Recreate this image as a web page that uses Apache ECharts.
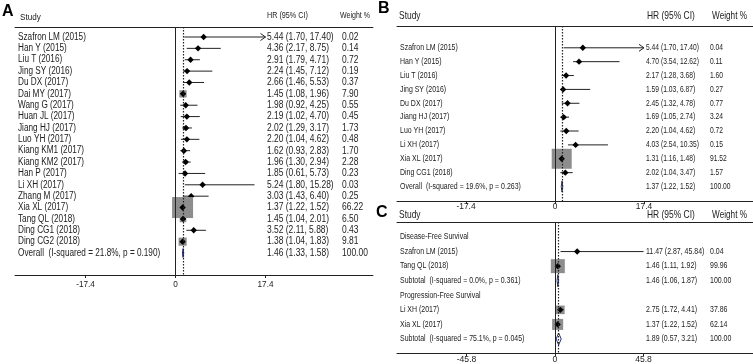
<!DOCTYPE html>
<html>
<head>
<meta charset="utf-8">
<script src="https://cdn.jsdelivr.net/npm/echarts@6/dist/echarts.min.js"></script>
<style>
  html, body { margin: 0; padding: 0; background: #fff; }
  #chart { width: 753px; height: 364px; }
</style>
</head>
<body>
<div id="chart"></div>
<script>
// A: all studies (overall survival)
const studiesA = ['Szafron LM (2015)', 'Han Y (2015)', 'Liu T (2016)', 'Jing SY (2016)', 'Du DX (2017)',
  'Dai MY (2017)', 'Wang G (2017)', 'Huan JL (2017)', 'Jiang HJ (2017)', 'Luo YH (2017)',
  'Kiang KM1 (2017)', 'Kiang KM2 (2017)', 'Han P (2017)', 'Li XH (2017)', 'Zhang M (2017)',
  'Xia XL (2017)', 'Tang QL (2018)', 'Ding CG1 (2018)', 'Ding CG2 (2018)',
  'Overall  (I-squared = 21.8%, p = 0.190)'];
const hrA = [5.44, 4.36, 2.91, 2.24, 2.66, 1.45, 1.98, 2.19, 2.02, 2.20, 1.62, 1.96, 1.85, 5.24, 3.03, 1.37, 1.45, 3.52, 1.38, 1.46];
const loA = [1.70, 2.17, 1.79, 1.45, 1.46, 1.08, 0.92, 1.02, 1.29, 1.04, 0.93, 1.30, 0.61, 1.80, 1.43, 1.22, 1.04, 2.11, 1.04, 1.33];
const hiA = [17.40, 8.75, 4.71, 7.12, 5.53, 1.96, 4.25, 4.70, 3.17, 4.62, 2.83, 2.94, 5.73, 15.28, 6.40, 1.52, 2.01, 5.88, 1.83, 1.58];
const weightA = [0.02, 0.14, 0.72, 0.19, 0.37, 7.90, 0.55, 0.45, 1.73, 0.48, 1.70, 2.28, 0.23, 0.03, 0.25, 66.22, 6.50, 0.43, 9.81, 100.00];

// B
const studiesB = ['Szafron LM (2015)', 'Han Y (2015)', 'Liu T (2016)', 'Jing SY (2016)', 'Du DX (2017)',
  'Jiang HJ (2017)', 'Luo YH (2017)', 'Li XH (2017)', 'Xia XL (2017)', 'Ding CG1 (2018)',
  'Overall  (I-squared = 19.6%, p = 0.263)'];
const hrB = [5.44, 4.70, 2.17, 1.59, 2.45, 1.69, 2.20, 4.03, 1.31, 2.02, 1.37];
const loB = [1.70, 3.54, 1.28, 1.03, 1.32, 1.05, 1.04, 2.54, 1.16, 1.04, 1.22];
const hiB = [17.40, 12.62, 3.68, 6.87, 4.78, 2.74, 4.62, 10.35, 1.48, 3.47, 1.52];
const weightB = [0.04, 0.11, 1.60, 0.27, 0.77, 3.24, 0.72, 0.15, 91.52, 1.57, 100.00];

// C: subgroups (null = subgroup heading)
const studiesC = ['Disease-Free Survival', 'Szafron LM (2015)', 'Tang QL (2018)',
  'Subtotal  (I-squared = 0.0%, p = 0.361)', 'Progression-Free Survival',
  'Li XH (2017)', 'Xia XL (2017)', 'Subtotal  (I-squared = 75.1%, p = 0.045)'];
const hrC = [null, 11.47, 1.46, 1.46, null, 2.75, 1.37, 1.89];
const loC = [null, 2.87, 1.11, 1.06, null, 1.72, 1.22, 0.57];
const hiC = [null, 45.84, 1.92, 1.87, null, 4.41, 1.52, 3.21];
const weightC = [null, 0.04, 99.96, 100.00, null, 37.86, 62.14, 100.00];
const refLineC = 1.7;

const ticksAB = [-17.4, 0, 17.4];
const ticksC = [-45.8, 0, 45.8];

// the source uses a condensed face; squeeze Liberation Sans horizontally
const FONT = '"Liberation Sans", Arial, sans-serif';
const SQ = 0.82;
const INK = '#222';
const BOX = '#8d8d8d';
const POOL = '#26336e';

const isPooled = name => /^(Overall|Subtotal)/.test(name);

const panels = [
  { names: studiesA, hr: hrA, lo: loA, hi: hiA, w: weightA, ticks: ticksAB, ref: hrA[hrA.length - 1],
    left: 15, right: 373, zero: 175.5, unit: 90 / 17.4, top: 27, axisY: 275, row0: 37, rowStep: 11.37,
    nameX: 18, hrX: 267, wX: 342, fs: 10, vfs: 10.3, boxMax: 21, diaH: 9, arrowAt: 17.4, tickFs: 8.2, tickMargin: 6 },
  { names: studiesB, hr: hrB, lo: loB, hi: hiB, w: weightB, ticks: ticksAB, ref: hrB[hrB.length - 1],
    left: 397, right: 753, zero: 555, unit: 89 / 17.4, top: 26, axisY: 201, row0: 47.8, rowStep: 13.87,
    nameX: 400, hrX: 646, wX: 710, fs: 8.5, vfs: 8.2, boxMax: 20, diaH: 11, arrowAt: 17.4, tickFs: 8.4, tickMargin: 2 },
  { names: studiesC, hr: hrC, lo: loC, hi: hiC, w: weightC, ticks: ticksC, ref: refLineC,
    left: 397, right: 753, zero: 555, unit: 88.5 / 45.8, top: 222, axisY: 353, row0: 237, rowStep: 14.57,
    nameX: 400, hrX: 646, wX: 710, fs: 8.5, vfs: 8.5, boxMax: 14, diaH: 12, arrowAt: null, tickFs: 8.6, tickMargin: 2 }
];

const grid = [], xAxis = [], yAxis = [], series = [];

panels.forEach((p, g) => {
  const xmin = (p.left - p.zero) / p.unit;
  const xmax = (p.right - p.zero) / p.unit;
  const maxW = Math.max(...p.w.filter((v, i) => v != null && !isPooled(p.names[i])));

  grid.push({ left: p.left, width: p.right - p.left, top: p.top, height: p.axisY - p.top });

  xAxis.push({
    type: 'value', gridIndex: g, min: xmin, max: xmax, position: 'bottom',
    axisLine: { onZero: false, lineStyle: { color: INK, width: 1 } },
    axisTick: { customValues: p.ticks, length: 3, lineStyle: { color: INK } },
    axisLabel: { customValues: p.ticks, fontSize: p.tickFs, fontFamily: FONT, color: INK,
      margin: p.tickMargin, formatter: v => String(v) },
    splitLine: { show: false }
  });
  // header rule
  xAxis.push({
    type: 'value', gridIndex: g, min: xmin, max: xmax, position: 'top',
    axisLine: { onZero: false, lineStyle: { color: INK, width: 1 } },
    axisTick: { show: false }, axisLabel: { show: false }, splitLine: { show: false }
  });
  yAxis.push({
    type: 'value', gridIndex: g, inverse: true, show: false,
    min: (p.top - p.row0) / p.rowStep, max: (p.axisY - p.row0) / p.rowStep
  });

  // null line + pooled estimate line
  series.push({
    type: 'scatter', xAxisIndex: g * 2, yAxisIndex: g, data: [], z: 1, silent: true,
    markLine: {
      symbol: ['none', 'none'], silent: true, animation: false, label: { show: false },
      data: [
        { xAxis: 0, lineStyle: { color: INK, width: 1, type: 'solid' } },
        { xAxis: p.ref, lineStyle: { color: INK, width: 1.2, type: [1.5, 1.5] } }
      ]
    }
  });

  series.push({
    type: 'custom', xAxisIndex: g * 2, yAxisIndex: g, z: 3, clip: false, silent: true,
    data: p.names.map((n, i) => [i, p.hr[i] == null ? 0 : p.hr[i]]),
    renderItem: (params, api) => {
      const i = api.value(0);
      const y = api.coord([0, i])[1];
      const txt = (x, s, fs) => ({
        type: 'text', x: x, y: y, scaleX: SQ,
        style: { text: s, fill: INK, fontSize: fs, fontFamily: FONT, align: 'left', verticalAlign: 'middle' }
      });
      const kids = [txt(p.nameX, p.names[i], p.fs)];
      const hr = p.hr[i];
      if (hr == null) return { type: 'group', children: kids };

      kids.push(txt(p.hrX, hr.toFixed(2) + ' (' + p.lo[i].toFixed(2) + ', ' + p.hi[i].toFixed(2) + ')', p.vfs));
      kids.push(txt(p.wX, p.w[i].toFixed(2), p.vfs));

      const x = api.coord([hr, i])[0];
      const xl = api.coord([p.lo[i], i])[0];
      const arrow = p.arrowAt != null && p.hi[i] >= p.arrowAt;
      const xh = api.coord([arrow ? p.arrowAt : p.hi[i], i])[0];

      if (isPooled(p.names[i])) {
        const h = p.diaH / 2;
        kids.push({ type: 'polygon', shape: { points: [[xl, y], [x, y - h], [xh, y], [x, y + h]] },
          style: { fill: 'none', stroke: POOL, lineWidth: 1 } });
        return { type: 'group', children: kids };
      }

      const s = p.boxMax * Math.sqrt(p.w[i] / maxW);
      kids.push({ type: 'rect', shape: { x: x - s / 2, y: y - s / 2, width: s, height: s }, style: { fill: BOX } });
      kids.push({ type: 'line', shape: { x1: xl, y1: y, x2: xh, y2: y }, style: { stroke: INK, lineWidth: 1 } });
      if (arrow) {
        kids.push({ type: 'polyline', shape: { points: [[xh - 5, y - 3.5], [xh, y], [xh - 5, y + 3.5]] },
          style: { stroke: INK, lineWidth: 1, fill: 'none' } });
      }
      kids.push({ type: 'polygon', shape: { points: [[x - 3.2, y], [x, y - 3.2], [x + 3.2, y], [x, y + 3.2]] },
        style: { fill: '#000' } });
      return { type: 'group', children: kids };
    }
  });
});

const head = (x, y, s, fs, align) => ({
  type: 'text', x: x, y: y, scaleX: SQ, silent: true,
  style: { text: s, fill: INK, fontSize: fs, fontFamily: FONT, align: align || 'left', verticalAlign: 'middle' }
});
const letter = (x, y, s) => ({
  type: 'text', x: x, y: y, silent: true,
  style: { text: s, fill: '#000', fontSize: 16, fontWeight: 'bold', fontFamily: FONT, verticalAlign: 'middle' }
});

const chart = echarts.init(document.getElementById('chart'), null, { renderer: 'canvas' });
chart.setOption({
  animation: false,
  backgroundColor: '#fff',
  grid, xAxis, yAxis, series,
  graphic: [
    letter(2, 12, 'A'), letter(378, 9, 'B'), letter(376, 213, 'C'),
    head(20, 17, 'Study', 9.9), head(267, 16, 'HR (95% CI)', 8.8), head(340, 16, 'Weight %', 8.6),
    head(399, 16, 'Study', 10.3), head(647, 16, 'HR (95% CI)', 10.3), head(747, 16, 'Weight %', 10, 'right'),
    head(399, 215, 'Study', 10.3), head(647, 215, 'HR (95% CI)', 10.3), head(747, 215, 'Weight %', 10, 'right')
  ]
});
</script>
</body>
</html>
